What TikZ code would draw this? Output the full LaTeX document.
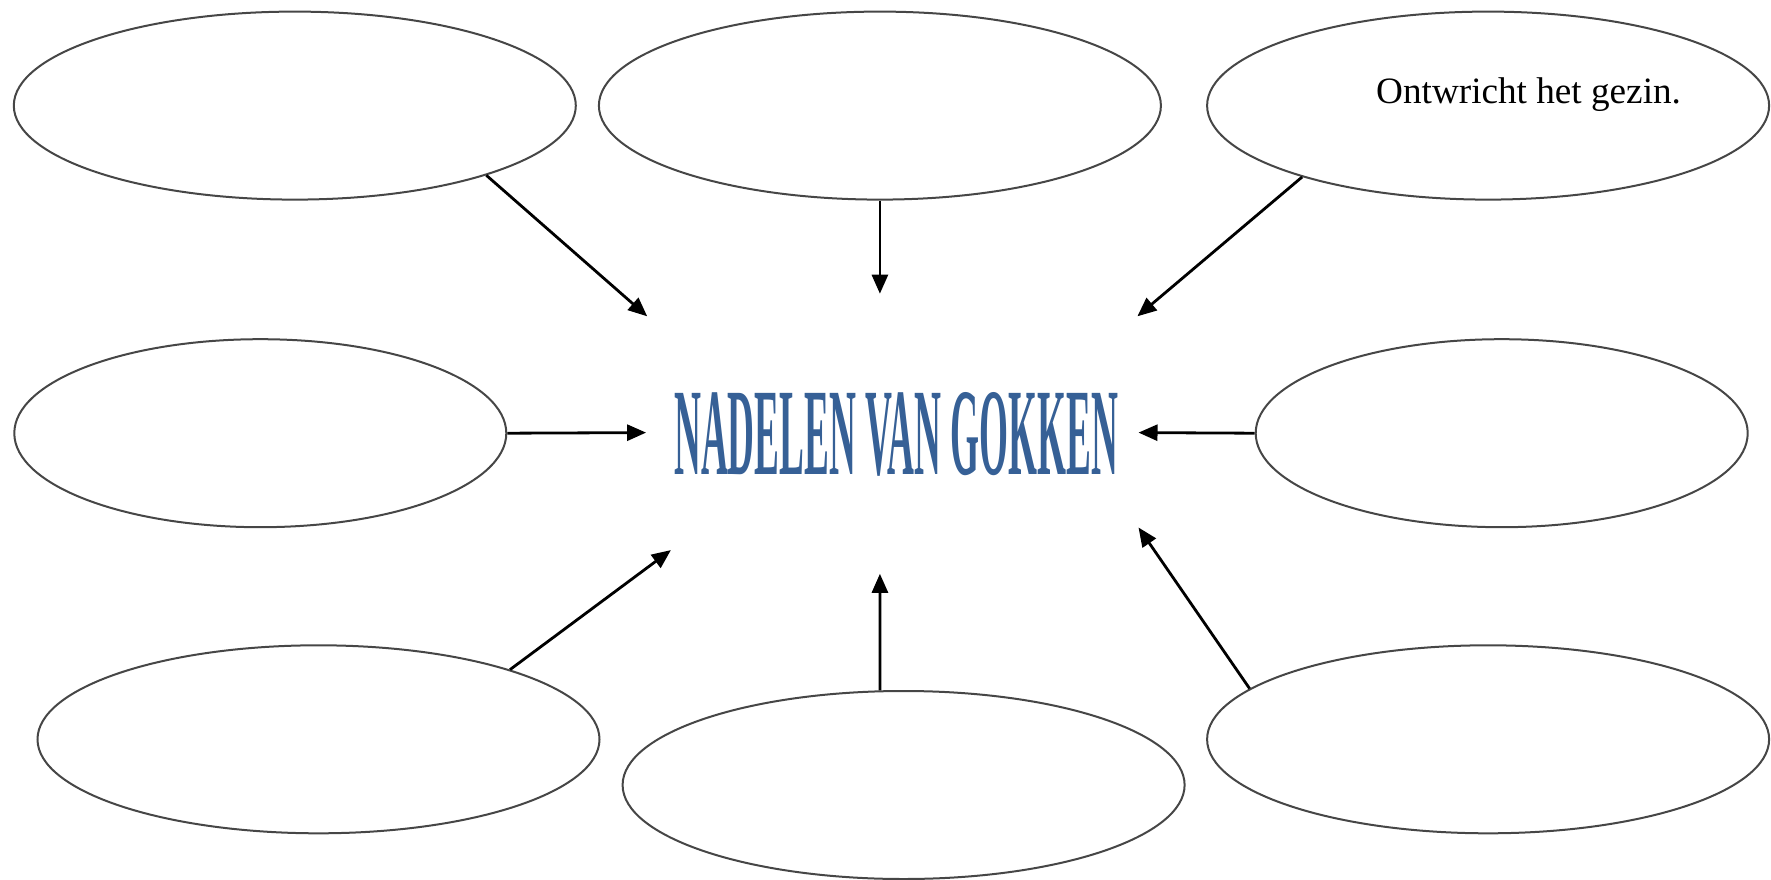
\documentclass[tikz,border=0pt]{standalone}
\usepackage{fontspec}
\setmainfont{Liberation Serif}
\usepackage{graphicx}
\usetikzlibrary{shapes.geometric,arrows.meta}
\definecolor{titleblue}{RGB}{54,96,150}
\definecolor{ringgray}{RGB}{70,70,70}
\begin{document}
\begin{tikzpicture}[x=1pt,y=-1pt,
  bubble/.style={ellipse,draw=ringgray,line width=2pt,inner sep=0pt,
    minimum width=562pt,minimum height=188pt},
  midbubble/.style={bubble,minimum width=492pt},
  link/.style={line width=2.8pt,-{Triangle[length=19pt,width=16pt]}}]
\useasboundingbox (0,0) rectangle (1771,880);
\node[bubble] (tl) at (294.8,105.6) {};
\node[bubble] (tm) at (879.9,105.6) {};
\node[bubble] (tr) at (1488.1,105.6) {};
\node[midbubble] (ml) at (260.3,433.2) {};
\node[midbubble] (mr) at (1501.7,433.2) {};
\node[bubble] (bl) at (318.5,739.3) {};
\node[bubble] (bm) at (903.6,785) {};
\node[bubble] (br) at (1488.1,739.3) {};
\node[text=titleblue,inner sep=0pt] (title) at (896.2,434.3)
  {\resizebox{444pt}{82pt}{\bfseries NADELEN VAN GOKKEN}};
\node[anchor=base west,inner sep=0pt,font=\fontsize{37.2}{44}\selectfont] (txt) at (1376,103) {Ontwricht het gezin.};
\coordinate (etl) at (647.2,316.3);
\coordinate (etm) at (879.9,293.7);
\coordinate (etr) at (1137.4,316.3);
\coordinate (eml) at (646.1,432.6);
\coordinate (emr) at (1138.5,432.6);
\coordinate (ebl) at (670.9,550.1);
\coordinate (ebm) at (879.9,573.8);
\coordinate (ebr) at (1138.5,527.5);
\draw[link] (tl.-20.2) -- (etl);
\draw[link] (tm.-90) -- (etm);
\draw[link] (tr.-159.6) -- (etr);
\draw[link] (ml.0) -- (eml);
\draw[link] (mr.180) -- (emr);
\draw[link] (bl.20.8) -- (ebl);
\draw[link] (bm.104.2) -- (ebm);
\draw[link] (br.168.3) -- (ebr);
\end{tikzpicture}
\end{document}
